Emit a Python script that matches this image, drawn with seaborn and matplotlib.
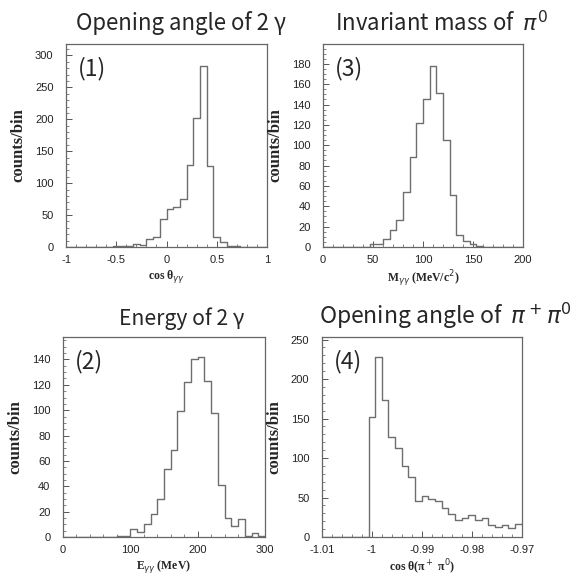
import numpy as np
import pandas as pd
import seaborn as sns
import matplotlib.pyplot as plt
from matplotlib.ticker import MultipleLocator

# histogram contents (30 bins each)
angle_counts = [0, 0, 0, 0, 0, 0, 0, 1, 1, 2, 5, 3, 12, 15, 44, 59, 62, 75, 128, 202,
                283, 127, 15, 8, 2, 1, 0, 0, 0, 0]
mass_counts = [0, 0, 0, 0, 0, 0, 0, 3, 3, 8, 17, 27, 54, 88, 122, 145, 178, 151, 105, 51,
               12, 6, 3, 1, 0, 0, 0, 0, 0, 0]
energy_counts = [0, 0, 0, 0, 0, 0, 0, 0, 1, 1, 6, 4, 10, 18, 30, 54, 69, 99, 122, 140,
                 142, 123, 98, 41, 15, 9, 14, 1, 3, 1]
pipi_counts = [0, 0, 0, 0, 0, 0, 0, 152, 228, 174, 127, 113, 90, 76, 46, 52, 48, 45, 37, 29,
               21, 24, 28, 21, 24, 15, 13, 15, 11, 17]

angle_range = (-1, 1)
mass_range = (0, 200)
energy_range = (0, 300)
pipi_range = (-1.01, -0.97)

titles = ["Opening angle of 2 γ", "Invariant mass of  $\\pi^0$",
          "Energy of 2 γ", "Opening angle of  $\\pi^+\\pi^0$"]
tags = ["(1)", "(3)", "(2)", "(4)"]
xlabels = ["cos θ$_{γγ}$", "M$_{γγ}$ (MeV/c$^2$)", "E$_{γγ}$ (MeV)", "cos θ(π$^+$ π$^0$)"]

sns.set_style("white")
plt.rcParams['font.family'] = ['Noto Sans CJK JP', 'DejaVu Sans']
plt.rcParams['mathtext.fontset'] = 'dejavusans'

fig = plt.figure(figsize=(5.81, 5.81), dpi=100)

panels = [
    # counts, range, rect, ylim, y major, y minor, x major, x minor
    (angle_counts, angle_range, [0.1136, 0.5749, 0.346, 0.3494], 318, 50, 10, 0.5, 0.1),
    (mass_counts, mass_range, [0.556, 0.5749, 0.344, 0.3494], 199.5, 20, 5, 50, 10),
    (energy_counts, energy_range, [0.1084, 0.0757, 0.3477, 0.344], 157.6, 20, 5, 100, 20),
    (pipi_counts, pipi_range, [0.554, 0.0757, 0.344, 0.344], 253, 50, 10, 0.01, 0.002),
]
title_pos = [(0.312, 0.96), (0.76, 0.96), (0.312, 0.452), (0.767, 0.457)]
title_size = [16, 16, 15.2, 16.5]

for k, (counts, rng, rect, ytop, ymaj, ymin, xmaj, xmin) in enumerate(panels):
    ax = fig.add_axes(rect)
    edges = np.linspace(rng[0], rng[1], len(counts) + 1)
    df = pd.DataFrame({"x": 0.5 * (edges[:-1] + edges[1:]), "w": counts})
    sns.histplot(data=df, x="x", weights="w", bins=len(counts), binrange=rng,
                 element="step", fill=False, color="#6e6e6e", linewidth=1.0, ax=ax)
    ax.set_xlim(rng)
    ax.set_ylim(0, ytop)
    ax.yaxis.set_major_locator(MultipleLocator(ymaj))
    ax.yaxis.set_minor_locator(MultipleLocator(ymin))
    ax.xaxis.set_major_locator(MultipleLocator(xmaj))
    ax.xaxis.set_minor_locator(MultipleLocator(xmin))
    ax.tick_params(which="both", direction="in", left=True, bottom=True, colors="#555555",
                   labelcolor="#222222", labelsize=8)
    ax.tick_params(axis="y", which="major", pad=9)
    ax.tick_params(axis="x", which="major", pad=6)
    ax.tick_params(which="major", length=4, width=0.7)
    ax.tick_params(which="minor", length=2, width=0.5)
    for sp in ax.spines.values():
        sp.set_color("#666666")
        sp.set_linewidth(0.9)
    if k == 3:
        ax.set_xticks([-1.01, -1.0, -0.99, -0.98, -0.97])
        ax.set_xticklabels(["-1.01", "-1", "-0.99", "-0.98", "-0.97"])
    elif k == 0:
        ax.set_xticks([-1, -0.5, 0, 0.5, 1])
        ax.set_xticklabels(["-1", "-0.5", "0", "0.5", "1"])
    for lab in ax.get_xticklabels() + ax.get_yticklabels():
        lab.set_family("Liberation Sans")
    ax.set_xlabel(xlabels[k], family="Liberation Serif", fontweight="bold", fontsize=8.5,
                  labelpad=2)
    ax.set_ylabel("counts/bin", family="Liberation Serif",
                  fontweight="bold", fontsize=12, labelpad=6)
    ax.text(0.06, 0.935, tags[k], transform=ax.transAxes, fontsize=16.5, va="top", ha="left",
            family="Noto Sans CJK JP")
    fig.text(title_pos[k][0], title_pos[k][1], titles[k], fontsize=title_size[k],
             ha="center", va="center")

fig.savefig("out.png", dpi=100)
